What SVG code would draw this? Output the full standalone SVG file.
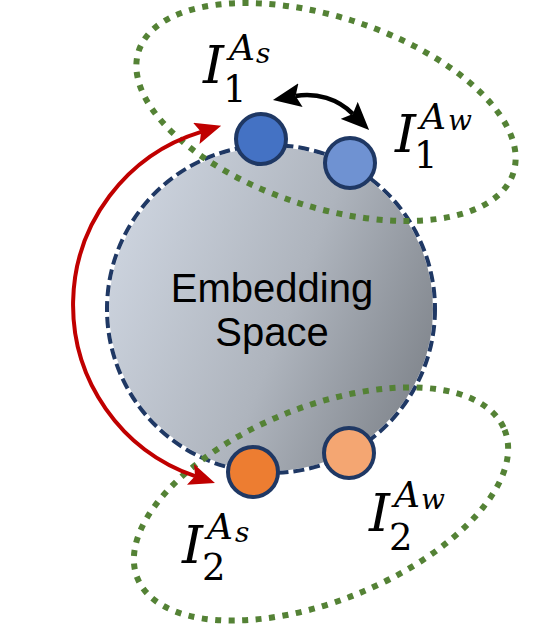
<svg xmlns="http://www.w3.org/2000/svg" width="545" height="625" viewBox="0 0 545 625">
<defs>
<linearGradient id="gSpace" x1="0" y1="0.3" x2="1" y2="0.7">
<stop offset="0" stop-color="#cdd4df"/>
<stop offset="0.55" stop-color="#aeb4bd"/>
<stop offset="1" stop-color="#80858c"/>
</linearGradient>
<marker id="headRed" viewBox="0 0 26 22" refX="5" refY="11" markerWidth="26" markerHeight="22" markerUnits="userSpaceOnUse" orient="auto-start-reverse">
<path d="M0,0 L26,11 L0,22 L5,11 z" fill="#c00000"/>
</marker>
<marker id="headBlack" viewBox="0 0 28 24" refX="5" refY="12" markerWidth="28" markerHeight="24" markerUnits="userSpaceOnUse" orient="auto-start-reverse">
<path d="M0,0 L28,12 L0,24 L5,12 z" fill="#000000"/>
</marker>
</defs>
<style>
.group-outline{fill:none;stroke:#548235;stroke-width:6;stroke-dasharray:6 7.5}
.emb-under{fill:url(#gSpace);stroke:#ffffff;stroke-width:4}
.emb-dash{fill:none;stroke:#1f3864;stroke-width:4;stroke-dasharray:11 5}
.pt{stroke:#1f3864;stroke-width:4}
.emb-label{font-family:"Liberation Sans",Arial,sans-serif;font-size:40px;fill:#000;text-anchor:middle}
.mi{font-family:"DejaVu Serif","Liberation Serif",serif;font-style:italic;fill:#000}
.mn{font-family:"DejaVu Serif","Liberation Serif",serif;fill:#000}
.conn-red{fill:none;stroke:#c00000;stroke-width:4}
.conn-black{fill:none;stroke:#000;stroke-width:4.5}
</style>

<g id="embedding-space">
<circle class="emb-under" cx="271" cy="309" r="164"/>
<circle class="emb-dash" cx="271" cy="309" r="164"/>
<text class="emb-label" x="272" y="302">Embedding</text>
<text class="emb-label" x="272" y="346">Space</text>
</g>

<g id="group-1">
<ellipse class="group-outline" cx="326" cy="112" rx="197" ry="95" transform="rotate(18 326 112)"/>
</g>
<g id="group-2">
<ellipse class="group-outline" cx="321" cy="504" rx="198" ry="97" transform="rotate(-22 321 504)"/>
</g>

<g id="connectors">
<path class="conn-red" d="M201.1,131.9 A181,181 0 0 0 195.1,476.1" marker-start="url(#headRed)" marker-end="url(#headRed)"/>
<path class="conn-black" d="M295.6,96 A65,65 0 0 1 352.8,113.9" marker-start="url(#headBlack)" marker-end="url(#headBlack)"/>
</g>

<g id="node-I1-As">
<circle class="pt" cx="261" cy="139" r="25" fill="#4472c4"/>
<text class="mi" x="203" y="83" font-size="53">I</text>
<text class="mn" x="223" y="102" font-size="37">1</text>
<text class="mi" x="229" y="60" font-size="36">A</text>
<text class="mi" x="256" y="63" font-size="28">s</text>
</g>

<g id="node-I1-Aw">
<circle class="pt" cx="350" cy="163" r="25" fill="#6f92d2"/>
<text class="mi" x="395" y="152" font-size="53">I</text>
<text class="mn" x="414" y="168" font-size="37">1</text>
<text class="mi" x="420" y="129" font-size="36">A</text>
<text class="mi" x="448" y="130" font-size="28">w</text>
</g>

<g id="node-I2-As">
<circle class="pt" cx="253" cy="472" r="25" fill="#ed7d31"/>
<text class="mi" x="182" y="563" font-size="53">I</text>
<text class="mn" x="202" y="580" font-size="37">2</text>
<text class="mi" x="207" y="539" font-size="36">A</text>
<text class="mi" x="235" y="542" font-size="28">s</text>
</g>

<g id="node-I2-Aw">
<circle class="pt" cx="349" cy="453" r="25" fill="#f4a672"/>
<text class="mi" x="369" y="531" font-size="53">I</text>
<text class="mn" x="389" y="550" font-size="37">2</text>
<text class="mi" x="394" y="507" font-size="36">A</text>
<text class="mi" x="421" y="509" font-size="28">w</text>
</g>
</svg>
